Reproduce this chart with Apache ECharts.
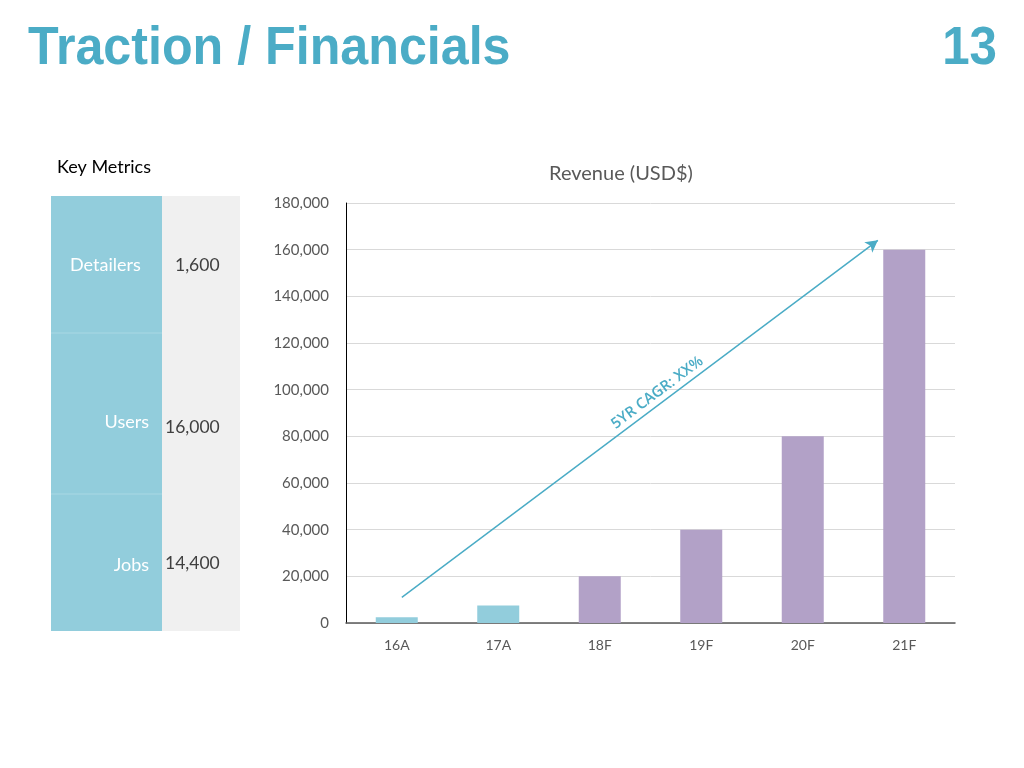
<!DOCTYPE html>
<html><head><meta charset="utf-8">
<script src="https://cdn.jsdelivr.net/npm/echarts@6/dist/echarts.min.js"></script>
<style>html,body{margin:0;padding:0;background:#fff}#c{width:1024px;height:768px}</style>
</head><body><div id="c"></div>
<script>
const categories = ['16A','17A','18F','19F','20F','21F'];
const actualRevenue = [2500, 7500, '-', '-', '-', '-'];
const forecastRevenue = ['-', '-', 20000, 40000, 80000, 160000];
const yTicks = [0, 180000, 20000]; // min, max, interval
const metricLabels = ['Detailers', 'Users', 'Jobs'];
const metricValues = ['1,600', '16,000', '14,400'];
const cagrArrow = [[0.55, 11000], [5.24, 164000]];
const cagrText = '5YR CAGR: XX%';

const chart = echarts.init(document.getElementById('c'));
const teal = '#4bacc6';
const blue = '#92cddc';
const purple = '#b2a1c7';
const txt = '#595959';
const font = 'Lato';

const labelPos = [{x:70, y:265, align:'left'}, {x:149, y:422, align:'right'}, {x:149, y:565, align:'right'}];
const valuePos = [{x:175, y:265}, {x:165, y:427}, {x:165, y:563}];
const graphics = [
  {type:'text', x:28, y:49, scaleX:0.947, style:{text:'Traction / Financials', fill:teal, font:'bold 53px "Liberation Sans", Arial', verticalAlign:'middle'}},
  {type:'text', x:997, y:49, scaleX:0.93, style:{text:'13', fill:teal, font:'bold 53px "Liberation Sans", Arial', align:'right', verticalAlign:'middle'}},
  {type:'text', x:57, y:167, style:{text:'Key Metrics', fill:'#000', font:'18px ' + font, verticalAlign:'middle'}},
  {type:'rect', shape:{x:51, y:196, width:111, height:435}, style:{fill:blue}},
  {type:'rect', shape:{x:162, y:196, width:78, height:435}, style:{fill:'#f0f0f0'}},
  {type:'line', shape:{x1:51, y1:333, x2:162, y2:333}, style:{stroke:'#a9d8e4', lineWidth:1}},
  {type:'line', shape:{x1:51, y1:494, x2:162, y2:494}, style:{stroke:'#a9d8e4', lineWidth:1}}
];
metricLabels.forEach((l, i) => {
  graphics.push({type:'text', x:labelPos[i].x, y:labelPos[i].y, style:{text:l, fill:'#fff', font:'18px ' + font, align:labelPos[i].align, verticalAlign:'middle'}});
  graphics.push({type:'text', x:valuePos[i].x, y:valuePos[i].y, style:{text:metricValues[i], fill:'#404040', font:'17.5px ' + font, align:'left', verticalAlign:'middle'}});
});

// label segment: the later part of the arrow, so its midpoint sits slightly past the arrow's middle
const t0 = 0.1;
const labelStart = [cagrArrow[0][0] + (cagrArrow[1][0]-cagrArrow[0][0])*t0, cagrArrow[0][1] + (cagrArrow[1][1]-cagrArrow[0][1])*t0];

chart.setOption({
  animation:false,
  title:{text:'Revenue (USD$)', left:544, top:159, textStyle:{color:txt, fontSize:20, fontWeight:'normal', fontFamily:font}},
  grid:{left:346, right:69, top:203, bottom:145},
  xAxis:[
    {type:'category', data:categories, axisLine:{lineStyle:{color:txt, width:1.5}}, axisTick:{show:false},
     axisLabel:{color:txt, fontSize:14, fontFamily:font, margin:15}},
    {type:'value', min:0, max:6, show:false}
  ],
  yAxis:{type:'value', min:yTicks[0], max:yTicks[1], interval:yTicks[2],
    axisLine:{show:true, lineStyle:{color:'#000', width:1}}, axisTick:{show:false},
    splitLine:{lineStyle:{color:'#d9d9d9'}},
    axisLabel:{color:txt, fontSize:15, fontFamily:font, margin:17, formatter:v=>v.toLocaleString('en-US')}},
  series:[
    {type:'bar', stack:'rev', data:actualRevenue, barWidth:42, itemStyle:{color:blue}},
    {type:'bar', stack:'rev', data:forecastRevenue, barWidth:42, itemStyle:{color:purple}},
    {type:'line', xAxisIndex:1, data:cagrArrow, symbol:'none', lineStyle:{opacity:0}, silent:true,
     markLine:{silent:true, symbol:['none','arrow'], symbolSize:[10,12],
       lineStyle:{color:teal, width:1.5, type:'solid'},
       label:{show:false},
       data:[
         [{coord:cagrArrow[0]},{coord:cagrArrow[1]}],
         [{coord:labelStart, symbol:'none', lineStyle:{color:'rgba(0,0,0,0)', width:0},
           label:{show:true, position:'middle', formatter:cagrText, color:teal, fontSize:15, fontWeight:600, fontFamily:'Open Sans', distance:3}},
          {coord:cagrArrow[1], symbol:'none'}]
       ]}}
  ],
  graphic:graphics
});
</script></body></html>
